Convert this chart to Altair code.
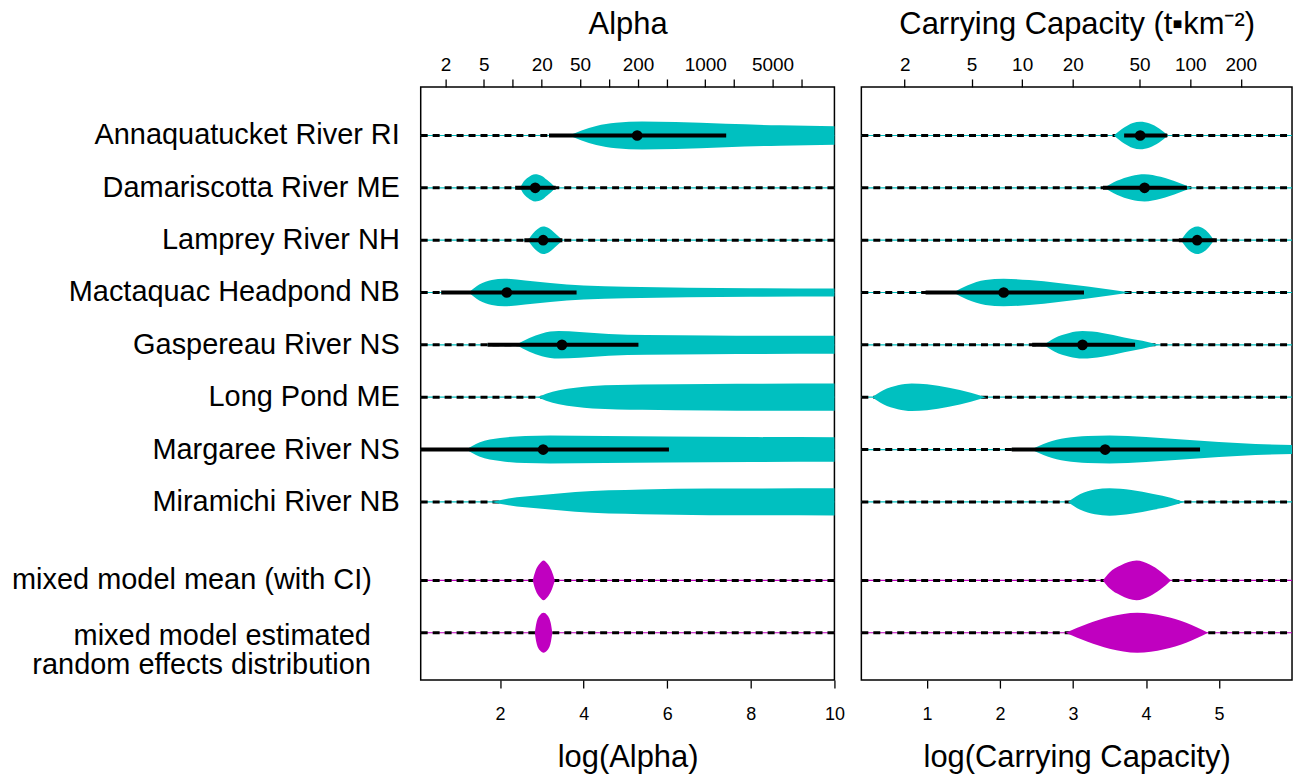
import math
import altair as alt
import pandas as pd

FONT = "Liberation Sans"
CYAN = "#00C0C0"
MAGENTA = "#C000C0"

# ---------------- data ----------------
site_names = ["Annaquatucket River RI", "Damariscotta River ME", "Lamprey River NH",
              "Mactaquac Headpond NB", "Gaspereau River NS", "Long Pond ME",
              "Margaree River NS", "Miramichi River NB"]
mixed_mean_label = "mixed model mean (with CI)"
mixed_re_label = ["mixed model estimated", "random effects distribution"]
row_pos = [1, 2, 3, 4, 5, 6, 7, 8, 9.5, 10.5]

# violin profiles: x (log scale) and density (half width)
alpha_x = [
    [3.65, 3.95, 4.3, 4.77, 5.4, 6.2, 7.4, 8.7, 10.0, 10.5],
    [2.48, 2.56, 2.66, 2.84, 3.0, 3.12, 3.22, 3.33],
    [2.67, 2.78, 2.89, 3.03, 3.17, 3.3, 3.42, 3.51],
    [1.25, 1.5, 1.8, 2.1, 2.6, 3.2, 4.0, 5.0, 6.5, 8.0, 10.5],
    [2.38, 2.7, 3.0, 3.4, 3.9, 4.6, 5.5, 7.0, 10.5],
    [2.9, 3.1, 3.41, 3.8, 4.21, 5.4, 7.0, 10.5],
    [1.19, 1.5, 2.0, 2.6, 3.2, 4.5, 6.0, 8.0, 10.5],
    [1.78, 2.2, 3.0, 3.8, 5.4, 7.0, 10.5],
    [2.78, 2.85, 2.95, 3.04, 3.13, 3.23, 3.31],
    [2.83, 2.87, 2.95, 3.04, 3.13, 3.21, 3.25],
]
alpha_dens = [
    [0, 5, 9.5, 12.7, 14, 13.5, 11.7, 10.2, 9.2, 9],
    [0, 6, 10, 13.7, 12, 8, 4.5, 0],
    [0, 6.5, 11, 13.8, 12, 7.5, 3, 0],
    [0, 8, 12.5, 13.8, 12, 9.5, 7, 5.8, 4.8, 4.3, 4],
    [0, 7, 11.5, 13.8, 13, 11, 10, 9.5, 9],
    [0, 3.5, 7, 9.5, 11.3, 12.7, 13.3, 13.7],
    [0, 7, 11.5, 13.5, 14, 13.5, 13, 12.5, 12.3],
    [0, 3.5, 7, 10, 12.5, 13.3, 13.7],
    [0, 10, 17, 20, 17, 10, 0],
    [0, 10, 17.5, 20, 17.5, 10, 0],
]
alpha_est = [5.28, 2.84, 3.03, 2.16, 3.48, None, 3.03, None]
alpha_lo = [3.17, 2.36, 2.58, 0.59, 1.70, None, 0.0, None]
alpha_hi = [7.41, 3.33, 3.49, 3.83, 5.31, None, 6.04, None]

cc_x = [
    [3.56, 3.7, 3.82, 3.92, 4.05, 4.18, 4.3],
    [3.43, 3.6, 3.8, 3.98, 4.2, 4.45, 4.63],
    [4.48, 4.56, 4.64, 4.70, 4.78, 4.86, 4.93],
    [1.36, 1.55, 1.8, 2.05, 2.4, 2.8, 3.2, 3.5, 3.79],
    [2.60, 2.75, 2.95, 3.13, 3.4, 3.7, 3.95, 4.18],
    [0.25, 0.4, 0.6, 0.79, 1.0, 1.3, 1.6, 1.81],
    [2.43, 2.65, 2.9, 3.2, 3.5, 4.0, 4.5, 5.0, 5.5, 6.0, 6.3],
    [2.93, 3.1, 3.3, 3.5, 3.8, 4.1, 4.35, 4.52],
    [3.41, 3.5, 3.65, 3.87, 4.05, 4.2, 4.34],
    [2.90, 3.2, 3.5, 3.88, 4.25, 4.55, 4.85],
]
cc_dens = [
    [0, 8, 12.5, 13.8, 12, 7, 0],
    [0, 7, 12, 13.7, 11, 5, 0],
    [0, 8, 12.5, 13.8, 12, 7, 0],
    [0, 7, 12.5, 13.8, 12.5, 9.5, 6, 3, 0],
    [0, 7, 12, 13.8, 12, 7.5, 4, 0],
    [0, 7, 12, 13.8, 13, 9.5, 4.5, 0],
    [0, 7, 11.5, 13.5, 14, 12.5, 10, 7.5, 5.5, 4.5, 4],
    [0, 8, 12.5, 13.8, 12, 8, 4, 0],
    [0, 8, 15, 20, 16, 9, 0],
    [0, 9, 16, 20, 16.5, 10, 0],
]
cc_est = [3.92, 3.98, 4.70, 2.05, 3.13, None, 3.44, None]
cc_lo = [3.70, 3.41, 4.45, 0.98, 2.44, None, 2.16, None]
cc_hi = [4.29, 4.56, 4.97, 3.15, 3.85, None, 4.74, None]

alpha_top_ticks = [2, 5, 10, 20, 50, 100, 200, 400, 1000, 2000, 5000, 10000]
alpha_top_labels = [2, 5, 20, 50, 200, 1000, 5000]
alpha_bottom_ticks = [2, 4, 6, 8, 10]
cc_top_ticks = [2, 5, 10, 20, 50, 100, 200]
cc_top_labels = [2, 5, 10, 20, 50, 100, 200]
cc_bottom_ticks = [1, 2, 3, 4, 5]

# ---------------- styling ----------------
ROW_PX = 52.5           # pixels per row unit
DENS_TO_ROW = 1.0 / ROW_PX
PANEL_H = 595
Y_DOMAIN = [11.405, 0.072]
TICK = 8
LABEL_FS = 29


def row_color(i):
    return CYAN if i < 8 else MAGENTA


def panel(xs, ds, est, lo, hi, domain, width, bottom_ticks, top_ticks, top_labels,
          title, xtitle, with_labels):
    vrows = []
    for i, (xx, dd) in enumerate(zip(xs, ds)):
        for a, d in zip(xx, dd):
            vrows.append({"x": a, "ymin": row_pos[i] - d * DENS_TO_ROW,
                          "ymax": row_pos[i] + d * DENS_TO_ROW, "id": i,
                          "color": row_color(i)})
    vdf = pd.DataFrame(vrows).sort_values(["id", "x"])
    rdf = pd.DataFrame({"row": row_pos, "color": [row_color(i) for i in range(10)]})
    cdf = pd.DataFrame({"row": row_pos[:8], "est": est, "lo": lo, "hi": hi}).dropna()

    xscale = alt.Scale(domain=domain, nice=False, zero=False)
    yscale = alt.Scale(domain=Y_DOMAIN, nice=False, zero=False)
    Yrow = alt.Y("row:Q", scale=yscale, axis=None)

    bottom_axis = alt.Axis(orient="bottom", values=bottom_ticks, format="d", title=xtitle,
                           grid=False, domain=False, tickSize=TICK, tickWidth=1.3,
                           tickColor="black", labelFontSize=18, labelFont=FONT,
                           labelColor="black", labelPadding=18, labelFlush=False,
                           labelOverlap=False, titleFont=FONT, titleFontSize=31,
                           titleFontWeight="normal", titleColor="black", titlePadding=19)
    lab_list = "[" + ",".join(str(v) for v in top_labels) + "]"
    top_axis = alt.Axis(orient="top", values=[math.log(v) for v in top_ticks],
                        labelExpr=f"indexof({lab_list}, round(exp(datum.value))) >= 0 ? "
                                  f"format(round(exp(datum.value)), 'd') : ''",
                        title=title, grid=False, domain=False, tickSize=TICK, tickWidth=1.3,
                        tickColor="black", labelFontSize=19, labelFont=FONT,
                        labelColor="black", labelPadding=4, labelFlush=False,
                        labelOverlap=False, titleFont=FONT, titleFontSize=31,
                        titleFontWeight="normal", titleColor="black", titlePadding=16)

    thin = alt.Chart(rdf).mark_rule(strokeWidth=1.2).encode(
        y=Yrow, x=alt.value(0), x2=alt.value(width),
        color=alt.Color("color:N", scale=None))
    dashed = alt.Chart(rdf).mark_rule(strokeWidth=3, strokeDash=[7, 5], color="black").encode(
        y=Yrow, x=alt.value(0), x2=alt.value(width))
    violins = alt.Chart(vdf).mark_area(interpolate="monotone", clip=True, opacity=1).encode(
        x=alt.X("x:Q", scale=xscale, axis=bottom_axis),
        y=alt.Y("ymin:Q", scale=yscale, axis=None, stack=None),
        y2="ymax:Q",
        detail="id:N",
        color=alt.Color("color:N", scale=None))
    ci = alt.Chart(cdf).mark_rule(strokeWidth=4, color="black", clip=True).encode(
        x=alt.X("lo:Q", scale=xscale, axis=None), x2="hi:Q", y=Yrow)
    pts = alt.Chart(cdf).mark_circle(size=115, opacity=1, color="black").encode(
        x=alt.X("est:Q", scale=xscale, axis=top_axis), y=Yrow)

    layers = [thin, dashed, violins, ci, pts]
    if with_labels:
        ldf = pd.DataFrame({"row": row_pos[:8], "label": site_names})
        layers.append(alt.Chart(ldf).mark_text(align="right", baseline="middle",
                                               fontSize=LABEL_FS, font=FONT, color="black").encode(
            y=Yrow, text="label:N", x=alt.value(-21)))
        m1 = pd.DataFrame({"row": [row_pos[8]], "label": [mixed_mean_label]})
        layers.append(alt.Chart(m1).mark_text(align="right", baseline="middle",
                                              fontSize=LABEL_FS, font=FONT, color="black").encode(
            y=Yrow, text="label:N", x=alt.value(-49)))
        layers.append(alt.Chart(pd.DataFrame({"row": [row_pos[9]]})).mark_text(
            align="right", baseline="middle", fontSize=LABEL_FS, font=FONT, color="black",
            lineHeight=29, dy=3, text=mixed_re_label).encode(
            y=Yrow, x=alt.value(-50)))

    return alt.layer(*layers).properties(width=width, height=PANEL_H).resolve_scale(
        x="shared", y="shared").resolve_axis(x="independent")


left = panel(alpha_x, alpha_dens, alpha_est, alpha_lo, alpha_hi, [0.1, 10], 415,
             alpha_bottom_ticks, alpha_top_ticks, alpha_top_labels,
             "Alpha", "log(Alpha)", True)
right = panel(cc_x, cc_dens, cc_est, cc_lo, cc_hi, [0.1, 6.0], 432,
              cc_bottom_ticks, cc_top_ticks, cc_top_labels,
              "Carrying Capacity (t\u25AAkm\u207B\u00B2)", "log(Carrying Capacity)", False)

chart = alt.hconcat(left, right, spacing=27, bounds="flush").properties(
    padding={"left": 11, "top": 6, "right": 4, "bottom": 2},
    background="white",
).configure_view(stroke="black", strokeWidth=1.5)

chart.save("out.html", embed_options={"renderer": "svg", "actions": False})
